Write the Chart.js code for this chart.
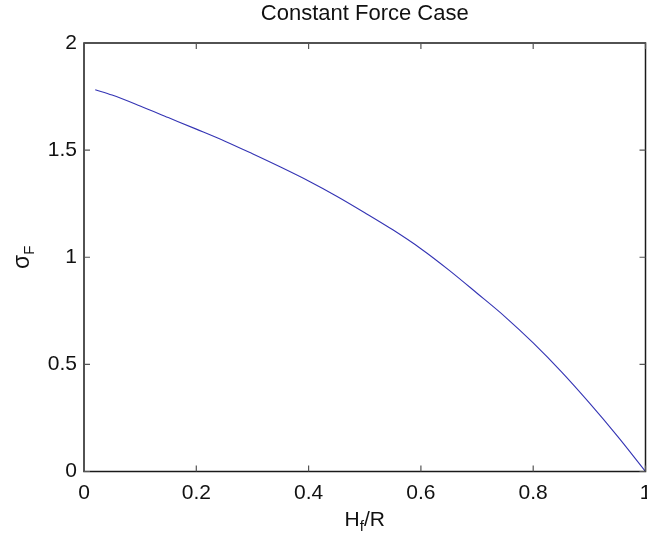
<!DOCTYPE html>
<html>
<head>
<meta charset="utf-8">
<script src="https://cdn.jsdelivr.net/npm/chart.js@4"></script>
<style>
html,body{margin:0;padding:0;background:#fff;}
#wrap{width:647px;height:538px;position:relative;}
</style>
</head>
<body>
<div id="wrap"><canvas id="c" width="647" height="538"></canvas></div>
<script>
// Data
const hfOverR = [0.02, 0.05, 0.10, 0.15, 0.20, 0.25, 0.30, 0.35, 0.40, 0.45, 0.50, 0.55, 0.60, 0.65, 0.70, 0.75, 0.80, 0.85, 0.90, 0.95, 1.00];
const sigmaF  = [1.782, 1.757, 1.706, 1.652, 1.598, 1.543, 1.483, 1.421, 1.356, 1.285, 1.208, 1.128, 1.040, 0.940, 0.832, 0.722, 0.600, 0.466, 0.320, 0.165, 0.000];
const xTicks = [0, 0.2, 0.4, 0.6, 0.8, 1];
const yTicks = [0, 0.5, 1, 1.5, 2];
const titleText = 'Constant Force Case';

const FONT = '"Liberation Sans", Arial, Helvetica, sans-serif';
const AXIS_COLOR = '#1a1a1a';

const boxPlugin = {
  id: 'matlabBox',
  afterDraw(chart) {
    const ctx = chart.ctx;
    const a = chart.chartArea;
    const xs = chart.scales.x, ys = chart.scales.y;
    ctx.save();
    ctx.strokeStyle = AXIS_COLOR;
    ctx.lineWidth = 1.5;
    ctx.strokeRect(a.left, a.top, a.right - a.left, a.bottom - a.top);
    ctx.lineWidth = 1.2;
    ctx.strokeStyle = '#555';
    const tl = 6;
    ctx.beginPath();
    xTicks.forEach(v => {
      const px = xs.getPixelForValue(v);
      ctx.moveTo(px, a.bottom); ctx.lineTo(px, a.bottom - tl);
      ctx.moveTo(px, a.top); ctx.lineTo(px, a.top + tl);
    });
    yTicks.forEach(v => {
      const py = ys.getPixelForValue(v);
      ctx.moveTo(a.left, py); ctx.lineTo(a.left + tl, py);
      ctx.moveTo(a.right, py); ctx.lineTo(a.right - tl, py);
    });
    ctx.stroke();

    // axis titles with subscripts
    ctx.fillStyle = '#111';
    ctx.textBaseline = 'alphabetic';
    const big = '21px ' + FONT, small = '15px ' + FONT;
    ctx.font = big; const wH = ctx.measureText('H').width; const wR = ctx.measureText('/R').width;
    ctx.font = small; const wf = ctx.measureText('f').width;
    const cx = (a.left + a.right) / 2;
    let x0 = cx - (wH + wf + wR) / 2;
    const yb = 526;
    ctx.textAlign = 'left';
    ctx.font = big; ctx.fillText('H', x0, yb);
    ctx.font = small; ctx.fillText('f', x0 + wH, yb + 5);
    ctx.font = big; ctx.fillText('/R', x0 + wH + wf, yb);
    // y title: sigma_F rotated
    ctx.save();
    const cy = (a.top + a.bottom) / 2;
    ctx.translate(29, cy);
    ctx.rotate(-Math.PI / 2);
    const bigS = '23px ' + FONT;
    ctx.font = bigS; const ws = ctx.measureText('σ').width;
    ctx.font = small; const wF = ctx.measureText('F').width;
    let s0 = -(ws + wF) / 2;
    ctx.font = bigS; ctx.fillText('σ', s0, 0);
    ctx.font = small; ctx.fillText('F', s0 + ws, 5);
    ctx.restore();
    ctx.restore();
  }
};

new Chart(document.getElementById('c'), {
  type: 'line',
  data: {
    labels: hfOverR,
    datasets: [{
      data: hfOverR.map((x, i) => ({x: x, y: sigmaF[i]})),
      borderColor: '#3434b4',
      borderWidth: 1.1,
      pointRadius: 0,
      fill: false,
      cubicInterpolationMode: 'monotone'
    }]
  },
  options: {
    responsive: false,
    animation: false,
    devicePixelRatio: 1,
    layout: { padding: { left: 0, right: 1.5, top: 0, bottom: 0 } },
    plugins: {
      legend: { display: false },
      tooltip: { enabled: false },
      title: {
        display: true,
        text: titleText,
        fullSize: false,
        color: '#111',
        font: { family: FONT, size: 22, weight: 'normal', lineHeight: 1.2 },
        padding: { top: 1, bottom: 15.6 }
      }
    },
    scales: {
      x: {
        type: 'linear',
        min: 0, max: 1,
        afterBuildTicks: s => { s.ticks = xTicks.map(v => ({value: v})); },
        ticks: {
          color: '#111',
          padding: 9,
          maxRotation: 0,
          font: { family: FONT, size: 21 },
          callback: v => String(v)
        },
        grid: { display: false, drawTicks: false },
        border: { display: false },
        afterFit: s => { s.height = 66.5; s.paddingLeft = 0; s.paddingRight = 0; }
      },
      y: {
        type: 'linear',
        min: 0, max: 2,
        afterBuildTicks: s => { s.ticks = yTicks.map(v => ({value: v})); },
        ticks: {
          color: '#111',
          padding: 7,
          font: { family: FONT, size: 21 },
          callback: v => String(v)
        },
        grid: { display: false, drawTicks: false },
        border: { display: false },
        afterFit: s => { s.width = 84; s.paddingTop = 0; s.paddingBottom = 0; }
      }
    }
  },
  plugins: [boxPlugin]
});
</script>
</body>
</html>
